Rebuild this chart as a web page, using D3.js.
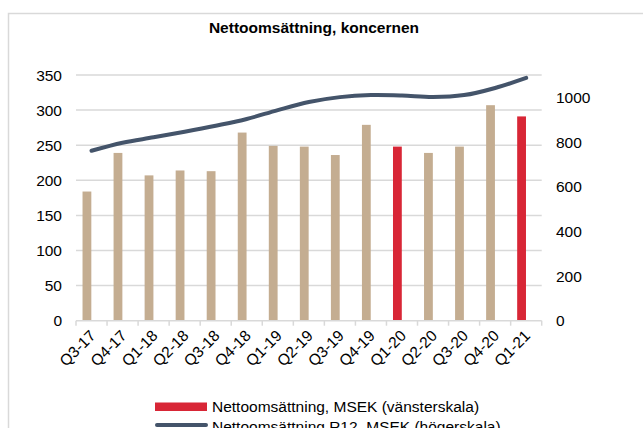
<!DOCTYPE html>
<html>
<head>
<meta charset="utf-8">
<script src="https://cdn.jsdelivr.net/npm/d3@7"></script>
<style>
body { margin: 0; background: #fff; }
svg { font-family: "Liberation Sans", Arial, sans-serif; }
</style>
</head>
<body>
<div id="chart"></div>
<script>
var quarters = ["Q3-17","Q4-17","Q1-18","Q2-18","Q3-18","Q4-18","Q1-19","Q2-19","Q3-19","Q4-19","Q1-20","Q2-20","Q3-20","Q4-20","Q1-21"];
var sales = [184, 239, 207, 214, 213, 268, 249, 248, 236, 279, 248, 239, 248, 307, 291];
var salesR12 = [761, 797, 821, 846, 873, 903, 943, 979, 1001, 1010, 1008, 1001, 1010, 1042, 1087];
var highlighted = ["Q1-20", "Q1-21"];
var leftTicks = [0, 50, 100, 150, 200, 250, 300, 350];
var rightTicks = [0, 200, 400, 600, 800, 1000];
var legendLabels = ["Nettoomsättning, MSEK (vänsterskala)", "Nettoomsättning R12, MSEK (högerskala)"];

var width = 643, height = 428;
var plotLeft = 76, plotRight = 541.7, plotTop = 75, plotBottom = 320.7;
var fontSize = "15.5px";

var svg = d3.select("#chart")
	.append("svg")
	.attr("width", width)
	.attr("height", height);

// outer frame
svg.append("rect")
	.attr("x", 8.5).attr("y", 13.5)
	.attr("width", 660).attr("height", 440)
	.attr("fill", "none")
	.attr("stroke", "#d9d9d9")
	.attr("stroke-width", 1.5);

svg.append("text")
	.attr("x", 314).attr("y", 33)
	.attr("text-anchor", "middle")
	.style("font-weight", "bold")
	.style("font-size", fontSize)
	.text("Nettoomsättning, koncernen");

var x = d3.scaleBand().domain(quarters).range([plotLeft, plotRight]);
var yL = d3.scaleLinear().domain([0, 350]).range([plotBottom, plotTop]);
var yR = d3.scaleLinear().domain([0, 1100]).range([plotBottom, plotTop]);

// gridlines
svg.selectAll("line.grid")
	.data(leftTicks.slice(1))
	.enter().append("line")
	.attr("class", "grid")
	.attr("x1", plotLeft).attr("x2", plotRight)
	.attr("y1", function(d) { return yL(d); })
	.attr("y2", function(d) { return yL(d); })
	.attr("stroke", "#d9d9d9")
	.attr("stroke-width", 1.5);

// left axis labels
svg.selectAll("text.yl")
	.data(leftTicks)
	.enter().append("text")
	.attr("class", "yl")
	.attr("x", 62)
	.attr("y", function(d) { return yL(d) + 5.5; })
	.attr("text-anchor", "end")
	.style("font-size", fontSize)
	.attr("fill", "#000")
	.text(function(d) { return d; });

// right axis labels
svg.selectAll("text.yr")
	.data(rightTicks)
	.enter().append("text")
	.attr("class", "yr")
	.attr("x", 556)
	.attr("y", function(d) { return yR(d) + 5.5; })
	.style("font-size", fontSize)
	.attr("fill", "#000")
	.text(function(d) { return d; });

// bars
svg.selectAll("rect.bar")
	.data(sales)
	.enter().append("rect")
	.attr("class", "bar")
	.attr("x", function(d, i) { return x(quarters[i]) + x.bandwidth() / 2 - 9; })
	.attr("width", 8.8)
	.attr("y", function(d) { return yL(d); })
	.attr("height", function(d) { return plotBottom - yL(d); })
	.attr("fill", function(d, i) {
		return highlighted.indexOf(quarters[i]) >= 0 ? "#d82636" : "#c4ad91";
	});

// x axis line and ticks
var axisG = svg.append("g").attr("stroke", "#d9d9d9").attr("stroke-width", 1.5);
axisG.append("line")
	.attr("x1", plotLeft).attr("x2", plotRight)
	.attr("y1", plotBottom).attr("y2", plotBottom);
axisG.selectAll("line.tick")
	.data(quarters.concat(["end"]))
	.enter().append("line")
	.attr("class", "tick")
	.attr("x1", function(d, i) { return plotLeft + i * x.bandwidth(); })
	.attr("x2", function(d, i) { return plotLeft + i * x.bandwidth(); })
	.attr("y1", plotBottom).attr("y2", plotBottom + 5);

// x labels
svg.selectAll("text.xl")
	.data(quarters)
	.enter().append("text")
	.attr("class", "xl")
	.attr("text-anchor", "end")
	.style("font-size", fontSize)
	.attr("transform", function(d) {
		return "translate(" + (x(d) + x.bandwidth() / 2 + 5) + "," + (plotBottom + 16) + ") rotate(-45)";
	})
	.text(function(d) { return d; });

// R12 line
var line = d3.line()
	.x(function(d, i) { return x(quarters[i]) + x.bandwidth() / 2; })
	.y(function(d) { return yR(d); })
	.curve(d3.curveCatmullRom.alpha(0.5));

svg.append("path")
	.datum(salesR12)
	.attr("d", line)
	.attr("fill", "none")
	.attr("stroke", "#44546a")
	.attr("stroke-width", 4)
	.attr("stroke-linecap", "round");

// legend
svg.append("rect")
	.attr("x", 155).attr("y", 402.5)
	.attr("width", 52).attr("height", 8.5)
	.attr("fill", "#d82636");
svg.append("line")
	.attr("x1", 157).attr("x2", 206)
	.attr("y1", 425).attr("y2", 425)
	.attr("stroke", "#44546a")
	.attr("stroke-width", 4)
	.attr("stroke-linecap", "round");
svg.selectAll("text.leg")
	.data(legendLabels)
	.enter().append("text")
	.attr("class", "leg")
	.attr("x", 212)
	.attr("y", function(d, i) { return 412 + i * 19.5; })
	.style("font-size", fontSize)
	.text(function(d) { return d; });
</script>
</body>
</html>
